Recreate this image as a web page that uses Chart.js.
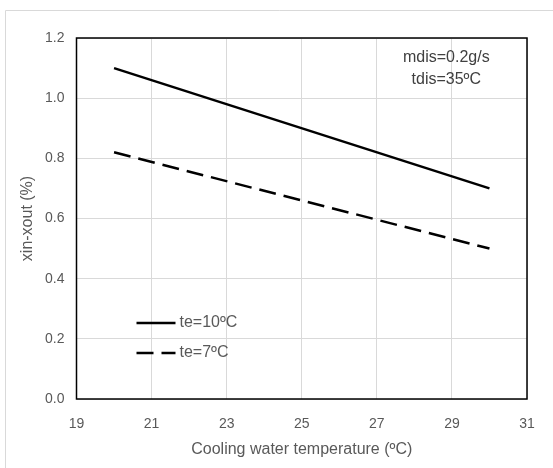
<!DOCTYPE html>
<html>
<head>
<meta charset="utf-8">
<script src="https://cdn.jsdelivr.net/npm/chart.js@4/dist/chart.umd.min.js"></script>
<style>
  html, body { margin: 0; padding: 0; background: #fff; }
  #wrap { position: relative; width: 553px; height: 468px; }
</style>
</head>
<body>
<div id="wrap"><canvas id="chart" width="553" height="468"></canvas></div>
<script>
const coolingTemps = [20, 30];
const te10Values = [1.10, 0.70];
const te7Values = [0.82, 0.50];
const seriesLabels = ['te=10ºC', 'te=7ºC'];
const xTicks = [19, 21, 23, 25, 27, 29, 31];
const yTicks = [0, 0.2, 0.4, 0.6, 0.8, 1.0, 1.2];
const noteLines = ['mdis=0.2g/s', 'tdis=35ºC'];

const FONT = 'Liberation Sans';
const GREY = '#595959';

const toPoints = (values) => values.map((v, i) => ({ x: coolingTemps[i], y: v }));

const frame = {
    id: 'frame',
    beforeDraw(chart) {
        const { ctx } = chart;
        ctx.save();
        ctx.strokeStyle = '#d9d9d9';
        ctx.lineWidth = 1;
        ctx.beginPath();
        ctx.moveTo(5.5, 468);
        ctx.lineTo(5.5, 10.5);
        ctx.lineTo(553, 10.5);
        ctx.stroke();
        ctx.restore();
    },
    afterDraw(chart) {
        const { ctx, chartArea: a, scales } = chart;
        ctx.save();
        ctx.strokeStyle = '#000';
        ctx.lineWidth = 1.5;
        ctx.strokeRect(a.left, a.top, a.right - a.left, a.bottom - a.top);

        // note in the top right corner
        ctx.fillStyle = '#404040';
        ctx.font = `16px "${FONT}"`;
        ctx.textAlign = 'center';
        ctx.textBaseline = 'middle';
        const nx = scales.x.getPixelForValue(28.85);
        noteLines.forEach((line, i) => {
            ctx.fillText(line, nx, scales.y.getPixelForValue(1.135 - i * 0.073));
        });

        // legend inside the plot
        ctx.textAlign = 'left';
        ctx.fillStyle = GREY;
        chart.data.datasets.forEach((ds, i) => {
            const y = Math.round(a.top + 285 + i * 30);
            const x0 = a.left + 60;
            ctx.strokeStyle = ds.borderColor;
            ctx.lineWidth = ds.borderWidth;
            ctx.setLineDash(ds.borderDash || []);
            ctx.beginPath();
            ctx.moveTo(x0, y);
            ctx.lineTo(x0 + 39, y);
            ctx.stroke();
            ctx.setLineDash([]);
            ctx.fillText(ds.label, x0 + 43, y);
        });
        ctx.restore();
    },
};

new Chart(document.getElementById('chart'), {
    type: 'scatter',
    data: {
        datasets: [
            {
                label: seriesLabels[0],
                data: toPoints(te10Values),
                showLine: true,
                borderColor: '#000',
                borderWidth: 2.5,
                pointRadius: 0,
            },
            {
                label: seriesLabels[1],
                data: toPoints(te7Values),
                showLine: true,
                borderColor: '#000',
                borderWidth: 2.5,
                borderDash: [17, 8],
                pointRadius: 0,
            },
        ],
    },
    options: {
        responsive: false,
        animation: false,
        layout: { padding: { top: 38, right: 26, left: 0, bottom: 0 } },
        plugins: { legend: { display: false }, tooltip: { enabled: false } },
        scales: {
            x: {
                type: 'linear',
                min: xTicks[0],
                max: xTicks[xTicks.length - 1],
                afterBuildTicks(axis) {
                    axis.ticks = xTicks.map((v) => ({ value: v }));
                },
                afterFit(axis) {
                    axis.height = 69;
                },
                grid: { color: '#d9d9d9', drawTicks: false },
                border: { display: false },
                ticks: { color: GREY, font: { family: FONT, size: 14 }, padding: 17 },
                title: {
                    display: true,
                    text: 'Cooling water temperature (ºC)',
                    color: GREY,
                    font: { family: FONT, size: 16 },
                    padding: 9,
                },
            },
            y: {
                min: yTicks[0],
                max: yTicks[yTicks.length - 1],
                afterBuildTicks(axis) {
                    axis.ticks = yTicks.map((v) => ({ value: v }));
                },
                afterFit(axis) {
                    axis.width = 76.5;
                },
                grid: { color: '#d9d9d9', drawTicks: false },
                border: { display: false },
                ticks: {
                    color: GREY,
                    font: { family: FONT, size: 14 },
                    padding: 12,
                    callback(value) {
                        return Number(value).toFixed(1);
                    },
                },
                title: {
                    display: true,
                    text: 'xin-xout (%)',
                    color: GREY,
                    font: { family: FONT, size: 16 },
                    padding: 18,
                },
            },
        },
    },
    plugins: [frame],
});
</script>
</body>
</html>
